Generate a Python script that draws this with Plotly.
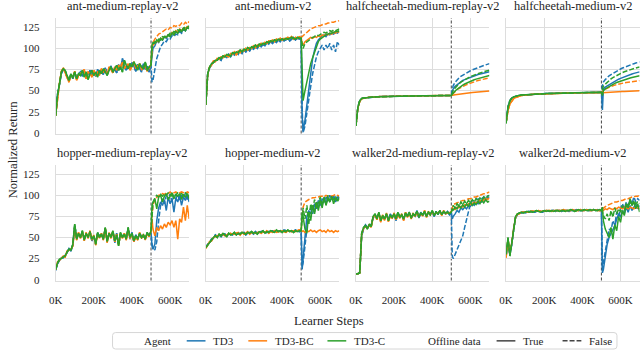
import plotly.graph_objects as go

# learner steps: offline phase sampled every 10K, online phase after 500K
STEPS_PRE = list(range(0, 500_001, 10_000))
STEPS_POST = [505_000] + list(range(510_000, 700_001, 10_000))
OFFLINE_END = 500_000

ENVS = [
    "ant-medium-replay-v2", "ant-medium-v2",
    "halfcheetah-medium-replay-v2", "halfcheetah-medium-v2",
    "hopper-medium-replay-v2", "hopper-medium-v2",
    "walker2d-medium-replay-v2", "walker2d-medium-v2",
]
AGENTS = ["TD3", "TD3-BC", "TD3-C"]
COLORS = ["#1f77b4", "#ff7f0e", "#2ca02c"]
X_TICKS = [0, 200_000, 400_000, 600_000]
X_TICKTEXT = ["0K", "200K", "400K", "600K"]
Y_TICKS = [0, 25, 50, 75, 100, 125]

# ---- ant-medium-replay ----
AMR_PRE_TD3 = [21, 46, 57, 70, 75, 73, 66, 61, 69, 64, 71, 66, 69, 72, 67, 73, 65, 70, 74, 68, 71, 67, 75, 70, 73, 69, 77, 71, 74, 79, 73, 76, 71, 81, 75, 88, 78, 74, 80, 76, 83, 79, 73, 81, 76, 72, 82, 75, 79, 72, 80]
AMR_PRE_BC = [20, 44, 59, 73, 77, 71, 65, 60, 68, 66, 73, 62, 68, 70, 72, 75, 64, 72, 70, 66, 74, 69, 72, 68, 76, 72, 74, 69, 78, 75, 71, 78, 74, 80, 77, 84, 76, 79, 82, 74, 80, 84, 76, 79, 82, 75, 78, 80, 73, 77, 81]
AMR_PRE_C = [20, 45, 58, 72, 76, 74, 68, 62, 70, 65, 72, 64, 70, 68, 74, 66, 72, 63, 70, 74, 68, 72, 66, 74, 70, 76, 72, 68, 74, 78, 72, 76, 80, 74, 78, 72, 86, 80, 76, 82, 78, 84, 80, 74, 82, 78, 76, 84, 74, 78, 80]
AMR_TD3_T = [92, 100, 103, 109, 107, 111, 110, 114, 112, 116, 114, 118, 116, 120, 118, 121, 119, 123, 121, 125, 124]
AMR_TD3_F = [60, 62, 74, 88, 95, 102, 105, 109, 108, 112, 111, 115, 114, 117, 116, 120, 118, 122, 121, 125, 124]
AMR_BC_T = [100, 104, 106, 109, 108, 112, 111, 114, 113, 116, 115, 119, 117, 121, 119, 123, 121, 124, 123, 126, 125]
AMR_BC_F = [102, 107, 111, 114, 117, 118, 120, 121, 123, 122, 125, 124, 127, 126, 128, 127, 130, 128, 131, 129, 132]
AMR_C_T = [104, 107, 106, 110, 108, 112, 110, 114, 113, 116, 114, 118, 116, 120, 118, 122, 120, 124, 121, 125, 123]
AMR_C_F = [100, 104, 108, 107, 111, 110, 114, 113, 116, 115, 118, 117, 120, 119, 122, 121, 124, 122, 126, 124, 127]

# ---- ant-medium ----
AM_PRE_TD3 = [33, 70, 77, 81, 84, 85, 87, 88, 86, 90, 91, 89, 93, 90, 94, 92, 95, 93, 97, 94, 98, 96, 99, 97, 101, 99, 102, 100, 104, 102, 105, 103, 107, 105, 108, 106, 109, 107, 110, 108, 111, 109, 110, 112, 109, 111, 113, 110, 112, 111, 112]
AM_PRE_BC = [33, 69, 78, 80, 85, 84, 88, 87, 90, 89, 92, 91, 90, 94, 93, 96, 92, 97, 95, 98, 97, 100, 98, 101, 100, 103, 101, 104, 103, 106, 105, 107, 106, 109, 108, 110, 108, 111, 110, 112, 110, 112, 111, 113, 112, 114, 111, 113, 112, 114, 113]
AM_PRE_C = [33, 70, 78, 82, 83, 86, 86, 89, 88, 91, 90, 93, 92, 91, 95, 94, 96, 95, 98, 96, 99, 98, 101, 99, 102, 101, 104, 102, 105, 104, 106, 105, 108, 107, 109, 108, 110, 109, 111, 110, 111, 110, 112, 111, 112, 113, 112, 111, 113, 112, 112]
AM_TD3_T = [20, 2, 15, 35, 55, 72, 88, 98, 106, 110, 113, 115, 116, 114, 117, 116, 118, 117, 119, 118, 120]
AM_TD3_F = [30, 0, 8, 22, 38, 55, 70, 82, 90, 96, 100, 104, 98, 104, 100, 106, 98, 104, 96, 108, 104]
AM_BC_T = [106, 104, 108, 110, 112, 113, 112, 114, 113, 115, 114, 116, 115, 117, 116, 118, 117, 119, 118, 120, 119]
AM_BC_F = [114, 115, 118, 120, 122, 123, 124, 125, 126, 127, 127, 128, 129, 129, 130, 130, 131, 131, 132, 132, 133]
AM_C_T = [70, 38, 50, 62, 72, 82, 89, 95, 102, 108, 111, 113, 115, 116, 117, 118, 118, 119, 120, 120, 121]
AM_C_F = [104, 100, 106, 108, 110, 112, 113, 114, 116, 115, 117, 118, 119, 118, 120, 121, 120, 122, 121, 122, 123]

# ---- halfcheetah-medium-replay ----
HMR_PRE_TD3 = [8, 30, 38, 40.5, 41.2, 41.5, 41.9, 42.0, 42.3, 42.4, 42.6, 42.6, 42.8, 42.9, 42.9, 43.0, 43.1, 43.0, 43.2, 43.2, 43.3, 43.2, 43.4, 43.4, 43.3, 43.5, 43.5, 43.6, 43.5, 43.6, 43.7, 43.6, 43.7, 43.8, 43.7, 43.8, 43.9, 43.8, 43.9, 43.9, 44.0, 43.9, 44.0, 44.1, 44.0, 44.1, 44.1, 44.0, 44.2, 44.1, 44.2]
HMR_PRE_BC = [8, 29, 37, 40.2, 41.0, 41.6, 41.8, 42.1, 42.2, 42.5, 42.5, 42.7, 42.7, 42.9, 43.0, 42.9, 43.1, 43.2, 43.1, 43.3, 43.2, 43.4, 43.3, 43.4, 43.5, 43.4, 43.6, 43.5, 43.7, 43.6, 43.7, 43.8, 43.7, 43.8, 43.9, 43.8, 43.9, 44.0, 43.9, 44.0, 44.0, 44.1, 44.0, 44.1, 44.2, 44.1, 44.2, 44.1, 44.2, 44.3, 44.2]
HMR_PRE_C = [8, 30, 38, 40.6, 41.3, 41.6, 41.8, 42.1, 42.2, 42.4, 42.6, 42.7, 42.7, 42.8, 43.0, 43.0, 43.0, 43.2, 43.1, 43.2, 43.3, 43.3, 43.3, 43.5, 43.4, 43.5, 43.6, 43.5, 43.6, 43.7, 43.6, 43.8, 43.7, 43.8, 43.8, 43.9, 43.8, 43.9, 44.0, 43.9, 44.0, 44.0, 44.1, 44.0, 44.1, 44.2, 44.1, 44.2, 44.1, 44.2, 44.2]
HMR_TD3_T = [49, 52, 55, 57, 59, 60.5, 62, 63, 64, 65, 66, 66.8, 67.5, 68.2, 69, 69.6, 70.2, 70.8, 71.3, 71.8, 72.3]
HMR_TD3_F = [52, 56, 60, 63, 65, 67, 68.5, 70, 71.5, 72.5, 73.5, 74.5, 75.5, 76.5, 77.5, 78.3, 79, 79.8, 80.5, 81.2, 82]
HMR_BC_T = [44.2, 44.5, 45, 45.4, 45.8, 46.1, 46.4, 46.7, 47, 47.2, 47.5, 47.7, 47.9, 48.2, 48.4, 48.6, 48.8, 49, 49.2, 49.4, 49.6]
HMR_BC_F = [45.5, 47, 49, 51, 52.5, 54, 55, 56, 57, 58, 59, 59.8, 60.5, 61.2, 61.9, 62.5, 63.1, 63.7, 64.2, 64.7, 65.2]
HMR_C_T = [45.5, 47, 49.5, 51.5, 53.5, 55, 56.5, 57.8, 59, 60, 61, 62, 62.8, 63.6, 64.3, 65, 65.6, 66.2, 66.8, 67.3, 67.8]
HMR_C_F = [47, 50, 53, 56, 58, 60, 61.5, 63, 64.3, 65.5, 66.5, 67.5, 68.5, 69.3, 70.1, 70.9, 71.6, 72.3, 73, 73.6, 74.2]

# ---- halfcheetah-medium ----
HM_PRE_TD3 = [12, 31, 38, 41, 42.5, 43.4, 43.9, 44.3, 44.6, 44.8, 45.0, 45.2, 45.3, 45.5, 45.6, 45.8, 45.9, 46.0, 46.1, 46.2, 46.3, 46.4, 46.5, 46.5, 46.6, 46.7, 46.7, 46.8, 46.9, 46.9, 47.0, 47.0, 47.1, 47.1, 47.2, 47.2, 47.3, 47.3, 47.4, 47.4, 47.5, 47.5, 47.5, 47.6, 47.6, 47.7, 47.7, 47.7, 47.8, 47.8, 47.9]
HM_PRE_BC = [12, 26, 34, 38, 40.5, 41.8, 42.8, 43.5, 44.0, 44.4, 44.7, 45.0, 45.2, 45.4, 45.5, 45.7, 45.8, 45.9, 46.0, 46.1, 46.2, 46.3, 46.4, 46.5, 46.5, 46.6, 46.7, 46.7, 46.8, 46.9, 46.9, 47.0, 47.0, 47.1, 47.1, 47.2, 47.2, 47.3, 47.3, 47.4, 47.4, 47.5, 47.5, 47.5, 47.6, 47.6, 47.7, 47.7, 47.7, 47.8, 47.8]
HM_PRE_C = [11, 30, 38, 41.2, 42.6, 43.5, 44.0, 44.4, 44.7, 44.9, 45.1, 45.2, 45.4, 45.5, 45.7, 45.8, 45.9, 46.0, 46.1, 46.2, 46.3, 46.4, 46.4, 46.5, 46.6, 46.6, 46.7, 46.8, 46.8, 46.9, 47.0, 47.0, 47.1, 47.1, 47.2, 47.2, 47.3, 47.3, 47.4, 47.4, 47.4, 47.5, 47.5, 47.6, 47.6, 47.7, 47.7, 47.7, 47.8, 47.8, 47.9]
HM_TD3_T = [27, 52, 54, 55.5, 57, 58.5, 60, 61.2, 62.4, 63.5, 64.5, 65.5, 66.4, 67.3, 68.1, 68.9, 69.7, 70.4, 71, 71.6, 72.2]
HM_TD3_F = [56, 60, 63, 65.5, 67.5, 69, 70.5, 72, 73.3, 74.5, 75.6, 76.7, 77.7, 78.6, 79.5, 80.3, 81.1, 81.9, 82.6, 83.3, 84]
HM_BC_T = [47.5, 47.6, 47.8, 48, 48.1, 48.2, 48.4, 48.5, 48.6, 48.7, 48.8, 48.9, 49, 49.1, 49.2, 49.3, 49.4, 49.5, 49.5, 49.6, 49.7]
HM_BC_F = [49, 50, 51.5, 52.8, 54, 55, 55.8, 56.5, 57.2, 57.8, 58.3, 58.8, 59.2, 59.6, 60, 60.3, 60.6, 60.9, 61.2, 61.5, 61.8]
HM_C_T = [44, 50, 52, 53.5, 55, 56.3, 57.5, 58.6, 59.6, 60.5, 61.4, 62.2, 63, 63.7, 64.4, 65, 65.6, 66.1, 66.6, 67.1, 67.5]
HM_C_F = [52, 55, 57.5, 60, 62, 63.8, 65.4, 66.8, 68.1, 69.3, 70.4, 71.4, 72.3, 73.2, 74, 74.8, 75.5, 76.2, 76.8, 77.4, 78]

# ---- hopper-medium-replay ----
HOMR_PRE_TD3 = [11, 19, 23, 26, 26, 29, 32, 37, 34, 41, 64, 50, 53, 52, 56, 49, 54, 51, 55, 46, 51, 44, 55, 52, 53, 49, 60, 47, 54, 52, 56, 44, 55, 42, 54, 52, 53, 50, 60, 48, 56, 45, 53, 49, 54, 52, 51, 49, 55, 53, 56]
HOMR_PRE_BC = [12, 21, 23, 25, 28, 27, 34, 35, 36, 40, 62, 47, 56, 49, 57, 46, 56, 49, 58, 47, 53, 41, 55, 49, 55, 47, 61, 44, 56, 49, 57, 45, 54, 41, 55, 49, 55, 47, 60, 49, 54, 45, 51, 47, 56, 49, 54, 47, 55, 51, 57]
HOMR_PRE_C = [12, 20, 24, 25, 27, 28, 33, 36, 35, 42, 66, 48, 55, 50, 58, 47, 55, 50, 57, 48, 52, 42, 56, 50, 54, 48, 62, 45, 55, 50, 58, 46, 53, 40, 56, 50, 54, 48, 62, 50, 55, 46, 52, 48, 55, 50, 53, 48, 56, 52, 58]
HOMR_TD3_T = [40, 36, 42, 70, 85, 92, 88, 95, 82, 98, 90, 96, 80, 97, 92, 100, 88, 98, 94, 100, 92]
HOMR_TD3_F = [42, 38, 35, 45, 70, 88, 96, 90, 100, 94, 102, 92, 100, 96, 101, 94, 100, 97, 102, 95, 100]
HOMR_BC_T = [72, 60, 52, 62, 58, 64, 60, 66, 62, 68, 65, 70, 62, 70, 48, 72, 68, 86, 70, 88, 72]
HOMR_BC_F = [75, 88, 95, 98, 100, 101, 102, 101, 103, 102, 104, 102, 103, 104, 102, 103, 104, 103, 102, 104, 103]
HOMR_C_T = [88, 92, 96, 84, 98, 100, 92, 99, 102, 95, 100, 103, 96, 101, 99, 102, 95, 101, 98, 102, 96]
HOMR_C_F = [80, 90, 97, 100, 98, 101, 99, 102, 100, 103, 101, 99, 102, 100, 103, 101, 102, 100, 103, 101, 99]

# ---- hopper-medium ----
HOM_PRE_TD3 = [38, 42, 44, 48, 49, 53, 51, 53, 51, 54, 54, 52, 54, 54, 53, 55, 54, 54, 55, 55, 56, 53, 55, 56, 56, 54, 57, 55, 56, 57, 57, 56, 56, 57, 57, 58, 57, 58, 58, 57, 57, 59, 58, 58, 58, 57, 57, 59, 58, 57, 58]
HOM_PRE_BC = [37, 41, 45, 46, 50, 51, 52, 53, 53, 54, 52, 53, 54, 55, 54, 54, 55, 56, 53, 56, 54, 55, 57, 54, 56, 56, 55, 56, 56, 55, 57, 56, 58, 55, 57, 56, 58, 56, 57, 57, 58, 57, 56, 58, 58, 57, 58, 57, 58, 59, 58]
HOM_PRE_C = [38, 41, 45, 47, 50, 52, 50, 54, 52, 55, 53, 51, 55, 53, 54, 56, 53, 55, 54, 56, 55, 54, 56, 55, 57, 55, 56, 54, 57, 56, 58, 55, 57, 56, 58, 57, 56, 59, 57, 58, 56, 58, 57, 59, 57, 58, 56, 58, 57, 58, 58]
HOM_TD3_T = [12, 25, 55, 75, 82, 78, 88, 80, 92, 85, 95, 88, 97, 90, 98, 93, 96, 100, 92, 98, 95]
HOM_TD3_F = [15, 20, 40, 65, 80, 85, 78, 90, 84, 94, 88, 96, 92, 99, 94, 100, 95, 98, 93, 100, 97]
HOM_BC_T = [57, 58, 56, 58, 57, 59, 57, 58, 56, 58, 59, 57, 58, 56, 59, 57, 58, 56, 58, 57, 58]
HOM_BC_F = [80, 86, 92, 94, 95, 96, 97, 97, 98, 98, 99, 99, 98, 100, 99, 100, 99, 100, 101, 100, 99]
HOM_C_T = [80, 75, 60, 55, 80, 70, 88, 78, 92, 82, 95, 85, 98, 88, 96, 92, 99, 90, 97, 94, 96]
HOM_C_F = [70, 85, 72, 88, 65, 90, 82, 95, 85, 92, 98, 88, 96, 90, 100, 93, 97, 95, 99, 92, 98]

# ---- walker2d-medium-replay ----
WMR_PRE_TD3 = [7, 7, 9, 52, 60, 65, 62, 64, 65, 73, 76, 74, 78, 71, 75, 73, 77, 71, 78, 73, 77, 70, 79, 75, 76, 71, 78, 76, 79, 74, 77, 75, 82, 73, 80, 76, 80, 76, 79, 78, 81, 75, 81, 77, 81, 78, 80, 78, 81, 77, 80]
WMR_PRE_BC = [7, 7, 8, 54, 61, 63, 61, 65, 62, 74, 77, 71, 79, 68, 77, 70, 79, 69, 75, 73, 79, 71, 78, 73, 78, 70, 80, 74, 79, 72, 79, 75, 80, 75, 78, 76, 82, 74, 81, 76, 81, 77, 79, 79, 81, 76, 82, 78, 79, 79, 81]
WMR_PRE_C = [7, 7, 8, 55, 62, 64, 60, 66, 63, 75, 78, 72, 80, 70, 76, 72, 78, 70, 76, 74, 78, 72, 80, 74, 77, 72, 79, 75, 80, 73, 78, 76, 81, 74, 79, 77, 81, 75, 80, 77, 82, 76, 80, 78, 82, 77, 81, 79, 80, 78, 80]
WMR_TD3_T = [72, 75, 78, 82, 80, 85, 83, 86, 84, 88, 87, 90, 88, 92, 90, 94, 92, 96, 94, 97, 98]
WMR_TD3_F = [28, 25, 30, 35, 40, 46, 52, 62, 72, 82, 90, 94, 93, 96, 95, 97, 96, 98, 97, 99, 100]
WMR_BC_T = [82, 84, 83, 86, 85, 87, 86, 89, 88, 90, 89, 91, 92, 91, 93, 94, 93, 95, 96, 95, 97]
WMR_BC_F = [86, 89, 90, 91, 92, 93, 94, 94, 95, 96, 96, 97, 98, 98, 99, 100, 101, 102, 102, 103, 104]
WMR_C_T = [84, 82, 86, 84, 88, 85, 89, 86, 90, 87, 92, 88, 91, 89, 93, 90, 94, 91, 95, 92, 93]
WMR_C_F = [86, 88, 85, 90, 87, 92, 89, 93, 90, 94, 91, 95, 92, 96, 93, 97, 94, 98, 96, 99, 100]

# ---- walker2d-medium ----
WM_PRE_TD3 = [28, 45, 30, 42, 60, 74, 77, 79, 79, 80, 79, 80, 81, 80, 81, 80, 81, 81, 81, 80, 81, 82, 81, 81, 82, 82, 81, 82, 82, 81, 82, 82, 82, 81, 82, 82, 82, 83, 82, 82, 82, 82, 83, 82, 82, 82, 83, 82, 83, 82, 82]
WM_PRE_BC = [26, 48, 32, 44, 61, 74, 78, 78, 80, 80, 80, 80, 80, 81, 81, 81, 81, 82, 81, 81, 81, 82, 82, 82, 81, 82, 82, 82, 82, 82, 83, 82, 82, 82, 82, 83, 82, 82, 82, 83, 82, 82, 83, 83, 82, 82, 83, 83, 82, 82, 82]
WM_PRE_C = [30, 50, 28, 45, 62, 75, 78, 79, 80, 79, 80, 81, 80, 81, 80, 81, 82, 81, 80, 81, 82, 81, 82, 81, 82, 81, 82, 82, 81, 82, 82, 81, 82, 82, 83, 82, 81, 82, 83, 82, 82, 83, 82, 82, 83, 82, 83, 82, 82, 83, 82]
WM_TD3_T = [8, 12, 28, 42, 50, 55, 60, 64, 72, 78, 74, 82, 78, 86, 80, 88, 82, 86, 90, 84, 88]
WM_TD3_F = [15, 20, 35, 50, 60, 58, 70, 65, 80, 75, 85, 90, 84, 92, 88, 95, 90, 98, 92, 96, 94]
WM_BC_T = [83, 82, 84, 83, 85, 84, 83, 85, 84, 86, 85, 84, 86, 85, 84, 86, 85, 84, 86, 85, 84]
WM_BC_F = [84, 85, 87, 88, 89, 90, 91, 92, 92, 93, 94, 94, 95, 96, 96, 97, 98, 98, 99, 99, 100]
WM_C_T = [86, 70, 60, 55, 50, 62, 48, 65, 58, 75, 68, 82, 76, 90, 85, 96, 88, 92, 84, 90, 80]
WM_C_F = [80, 76, 72, 78, 70, 82, 74, 85, 78, 84, 80, 88, 82, 90, 86, 92, 88, 94, 90, 92, 90]

# env -> agent -> (offline phase, online with offline data, online without)
runs = {
    ENVS[0]: {"TD3": (AMR_PRE_TD3, AMR_TD3_T, AMR_TD3_F), "TD3-BC": (AMR_PRE_BC, AMR_BC_T, AMR_BC_F), "TD3-C": (AMR_PRE_C, AMR_C_T, AMR_C_F)},
    ENVS[1]: {"TD3": (AM_PRE_TD3, AM_TD3_T, AM_TD3_F), "TD3-BC": (AM_PRE_BC, AM_BC_T, AM_BC_F), "TD3-C": (AM_PRE_C, AM_C_T, AM_C_F)},
    ENVS[2]: {"TD3": (HMR_PRE_TD3, HMR_TD3_T, HMR_TD3_F), "TD3-BC": (HMR_PRE_BC, HMR_BC_T, HMR_BC_F), "TD3-C": (HMR_PRE_C, HMR_C_T, HMR_C_F)},
    ENVS[3]: {"TD3": (HM_PRE_TD3, HM_TD3_T, HM_TD3_F), "TD3-BC": (HM_PRE_BC, HM_BC_T, HM_BC_F), "TD3-C": (HM_PRE_C, HM_C_T, HM_C_F)},
    ENVS[4]: {"TD3": (HOMR_PRE_TD3, HOMR_TD3_T, HOMR_TD3_F), "TD3-BC": (HOMR_PRE_BC, HOMR_BC_T, HOMR_BC_F), "TD3-C": (HOMR_PRE_C, HOMR_C_T, HOMR_C_F)},
    ENVS[5]: {"TD3": (HOM_PRE_TD3, HOM_TD3_T, HOM_TD3_F), "TD3-BC": (HOM_PRE_BC, HOM_BC_T, HOM_BC_F), "TD3-C": (HOM_PRE_C, HOM_C_T, HOM_C_F)},
    ENVS[6]: {"TD3": (WMR_PRE_TD3, WMR_TD3_T, WMR_TD3_F), "TD3-BC": (WMR_PRE_BC, WMR_BC_T, WMR_BC_F), "TD3-C": (WMR_PRE_C, WMR_C_T, WMR_C_F)},
    ENVS[7]: {"TD3": (WM_PRE_TD3, WM_TD3_T, WM_TD3_F), "TD3-BC": (WM_PRE_BC, WM_BC_T, WM_BC_F), "TD3-C": (WM_PRE_C, WM_C_T, WM_C_F)},
}

W, H = 640, 356
FONT = "Liberation Serif"   # DejaVu Serif is not available here
TEXT = "#262626"
GRID = "#dddddd"
DASH = "5px,2px"
TITLE_SIZE, LABEL_SIZE, TICK_SIZE, LEG_SIZE = 12.4, 12.6, 11, 11


def px(x):
    return x / W


def py(y):
    return 1 - y / H


col_left = [49.2, 201.0, 352.8, 504.6]
col_w = 135
row_top = [18.3, 167.3]
row_h = 117.2

fig = go.Figure()
layout = {}
annotations = []
shapes = []

for i, env in enumerate(ENVS):
    r, c = divmod(i, 4)
    n = i + 1
    xa = "x" if n == 1 else f"x{n}"
    ya = "y" if n == 1 else f"y{n}"
    for agent, color in zip(AGENTS, COLORS):
        pre, on_t, on_f = runs[env][agent]
        for post, dash in ((on_t, "solid"), (on_f, DASH)):
            fig.add_trace(go.Scatter(
                x=STEPS_PRE + STEPS_POST, y=pre + post, mode="lines",
                line=dict(color=color, width=1.5, dash=dash),
                xaxis=xa, yaxis=ya, showlegend=False, hoverinfo="skip",
            ))
    layout[f"xaxis{n}"] = dict(
        domain=[px(col_left[c]), px(col_left[c] + col_w)], anchor=ya,
        range=[0, 700_000], tickvals=X_TICKS, ticktext=X_TICKTEXT,
        showticklabels=(r == 1), ticks="outside", ticklen=9,
        tickcolor="rgba(0,0,0,0)", gridcolor=GRID, gridwidth=1,
        showline=True, linecolor=GRID, linewidth=1, zeroline=False,
        tickfont=dict(family=FONT, size=TICK_SIZE, color=TEXT),
    )
    top = row_top[r]
    layout[f"yaxis{n}"] = dict(
        domain=[py(top + row_h), py(top)], anchor=xa,
        range=[-1, 136], tickvals=Y_TICKS,
        showticklabels=(c == 0), ticks="outside", ticklen=13,
        tickcolor="rgba(0,0,0,0)", gridcolor=GRID, gridwidth=1,
        showline=True, linecolor=GRID, linewidth=1, zeroline=False,
        tickfont=dict(family=FONT, size=TICK_SIZE, color=TEXT),
    )
    # end of offline phase
    shapes.append(dict(
        type="line", xref=xa, yref=f"{ya} domain", x0=OFFLINE_END, x1=OFFLINE_END,
        y0=0, y1=1, line=dict(color="#555555", width=1.1, dash="3px,2px"), layer="below",
    ))
    annotations.append(dict(
        text=env, xref="paper", yref="paper", x=px(col_left[c] + col_w / 2),
        y=py(top - 12), xanchor="center", yanchor="middle", showarrow=False,
        font=dict(family=FONT, size=TITLE_SIZE, color=TEXT),
    ))

annotations.append(dict(
    text="Normalized Return", xref="paper", yref="paper", x=px(5.5), y=py(151),
    textangle=-90, xanchor="center", yanchor="middle", showarrow=False,
    font=dict(family=FONT, size=LABEL_SIZE, color=TEXT),
))
annotations.append(dict(
    text="Learner Steps", xref="paper", yref="paper", x=px(325.5), y=py(326),
    xanchor="center", yanchor="middle", showarrow=False,
    font=dict(family=FONT, size=LABEL_SIZE, color=TEXT),
))

# legend box drawn by hand to match the figure-level legend
x0, x1, y0, y1, rad = 106.7, 616.7, 337.3, 354.0, 3
path = (
    f"M {px(x0 + rad)},{py(y0)} L {px(x1 - rad)},{py(y0)} Q {px(x1)},{py(y0)} {px(x1)},{py(y0 + rad)} "
    f"L {px(x1)},{py(y1 - rad)} Q {px(x1)},{py(y1)} {px(x1 - rad)},{py(y1)} "
    f"L {px(x0 + rad)},{py(y1)} Q {px(x0)},{py(y1)} {px(x0)},{py(y1 - rad)} "
    f"L {px(x0)},{py(y0 + rad)} Q {px(x0)},{py(y0)} {px(x0 + rad)},{py(y0)} Z"
)
shapes.append(dict(type="path", xref="paper", yref="paper", path=path,
                   line=dict(color="#d6d6d6", width=1), fillcolor="white"))

leg_y = 345.7
legend_items = [
    ("Agent", None, None, 136.0),
    ("TD3", COLORS[0], "solid", 181.7),
    ("TD3-BC", COLORS[1], "solid", 244.0),
    ("TD3-C", COLORS[2], "solid", 324.0),
    ("Offline data", None, None, 423.3),
    ("True", "#444444", "solid", 495.0),
    ("False", "#444444", DASH, 561.7),
]
for label, color, dash, lx in legend_items:
    tx = lx
    if color is not None:
        shapes.append(dict(type="line", xref="paper", yref="paper",
                           x0=px(lx), x1=px(lx + 19), y0=py(leg_y), y1=py(leg_y),
                           line=dict(color=color, width=1.5, dash=dash)))
        tx = lx + 25
    annotations.append(dict(
        text=label, xref="paper", yref="paper", x=px(tx), y=py(leg_y),
        xanchor="left", yanchor="middle", showarrow=False,
        font=dict(family=FONT, size=LEG_SIZE, color=TEXT),
    ))

fig.update_layout(
    width=W, height=H, margin=dict(l=0, r=0, t=0, b=0),
    paper_bgcolor="white", plot_bgcolor="white",
    annotations=annotations, shapes=shapes, showlegend=False,
    font=dict(family=FONT, color=TEXT),
    **layout,
)

fig.write_html("out.html", config={"displayModeBar": False},
               post_script="document.body.style.margin='0';")
